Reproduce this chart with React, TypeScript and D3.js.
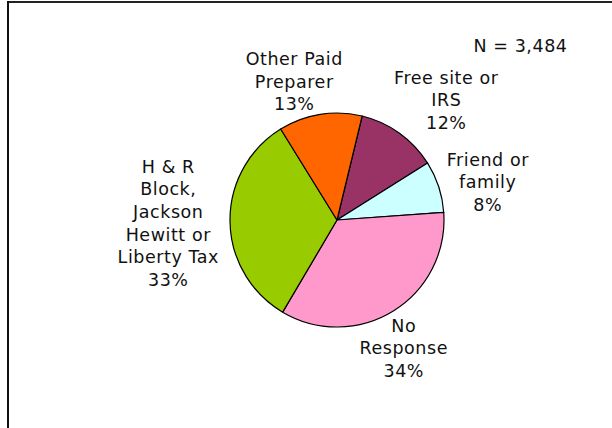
import React from "react";
import * as d3 from "d3";

const categories = ["Free site or IRS", "Friend or family", "No Response", "H & R Block, Jackson Hewitt or Liberty Tax", "Other Paid Preparer"];
const shares = [12.3, 7.8, 34.6, 32.7, 12.6];
const pctLabels = ["12%", "8%", "34%", "33%", "13%"];
const labelLines = [
  ["Free site or", "IRS"],
  ["Friend or", "family"],
  ["No", "Response"],
  ["H & R", "Block,", "Jackson", "Hewitt or", "Liberty Tax"],
  ["Other Paid", "Preparer"],
];
const colors = ["#993366", "#CCFFFF", "#FF99CC", "#99CC00", "#FF6600"];
const sampleNote = "N = 3,484";

const W = 612, H = 428;
const cx = 337, cy = 220, R = 107;
const startDeg = 13.6;
// label anchors: center x, first baseline y
const labelPos = [
  [446, 83.5],
  [487.5, 165.5],
  [403.5, 331.5],
  [168, 172.5],
  [294, 65],
];
const lineH = 22.7;
const ls = 0.55;

export default function App() {
  const pie = d3.pie<number>().sort(null).value((d) => d)
    .startAngle((startDeg * Math.PI) / 180)
    .endAngle((startDeg * Math.PI) / 180 + 2 * Math.PI);
  const arcs = pie(shares);
  const arc = d3.arc<d3.PieArcDatum<number>>().innerRadius(0).outerRadius(R);
  const font = "'DejaVu Sans', Verdana, sans-serif";
  return (
    <svg width={W} height={H} style={{ position: "absolute", left: 0, top: 0, display: "block" }}>
      <rect x={0} y={0} width={W} height={H} fill="#fff" />
      <line x1={7} y1={2} x2={W} y2={2} stroke="#222" strokeWidth={2} />
      <line x1={8} y1={1} x2={8} y2={H} stroke="#111" strokeWidth={2} />
      <g transform={`translate(${cx},${cy})`}>
        {arcs.map((a, i) => (
          <path key={categories[i]} d={arc(a) || ""} fill={colors[i]} stroke="#000" strokeWidth={1.2} strokeLinejoin="round" />
        ))}
      </g>
      {labelLines.map((lines, i) => {
        const all = [...lines, pctLabels[i]];
        return (
          <text key={categories[i]} textAnchor="middle" fontFamily={font} fontSize={17.5} letterSpacing={ls} fill="#111">
            {all.map((t, j) => (
              <tspan key={j} x={labelPos[i][0] + ls / 2} y={labelPos[i][1] + j * lineH}>{t}</tspan>
            ))}
          </text>
        );
      })}
      <text x={567 + ls} y={51.5} textAnchor="end" fontFamily={font} fontSize={17.5} letterSpacing={ls} fill="#111">{sampleNote}</text>
    </svg>
  );
}
